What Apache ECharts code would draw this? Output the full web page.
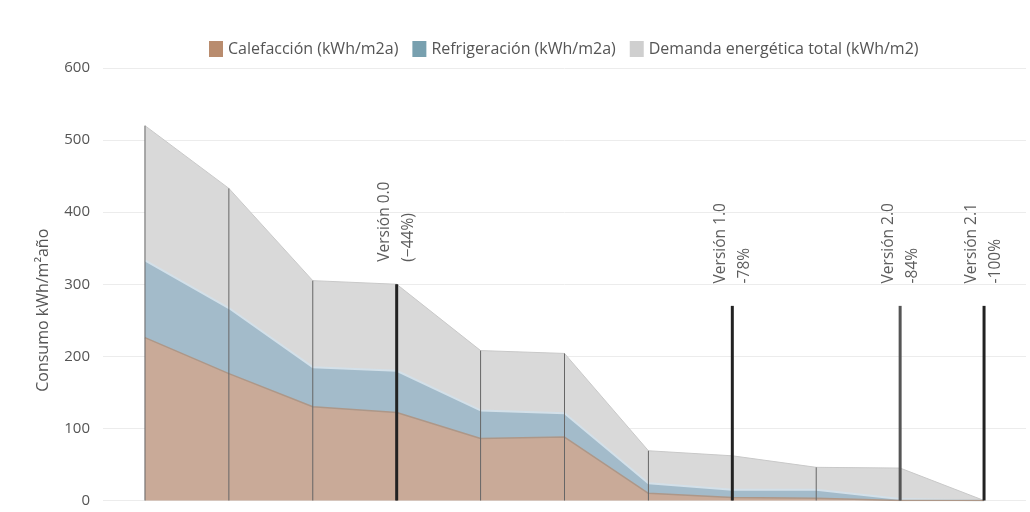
<!DOCTYPE html>
<html>
<head>
<meta charset="utf-8">
<script src="https://cdn.jsdelivr.net/npm/echarts@6/dist/echarts.min.js"></script>
<style>
  html, body { margin: 0; padding: 0; background: #fff; }
  #chart { width: 1030px; height: 512px; }
</style>
</head>
<body>
<div id="chart"></div>
<script>
// pasos del proceso (posiciones sobre el eje x)
var steps = ['0', '1', '2', '3', '4', '5', '6', '7', '8', '9', '10'];
// demanda energética total (kWh/m2)
var total = [520, 433, 305, 300, 208, 204, 69, 62, 46, 45, 0];
// calefacción (kWh/m2a)
var calefaccion = [226, 176, 130, 122, 86, 88, 10, 4, 3, 0, 0];
// refrigeración (kWh/m2a), apilada sobre calefacción
var refrigeracion = [107, 91, 55, 58, 39, 33, 14, 11, 12, 2, 0];

// versiones marcadas
var versionX = ['3', '7', '9', '10'];
var versionTop = [300, 270, 270, 270];
var versionText = ['Versión 0.0\n(−44%)', 'Versión 1.0\n-78%', 'Versión 2.0\n-84%', 'Versión 2.1\n-100%'];
var versionColor = ['#222', '#222', '#555', '#222'];

var font = '"Open Sans", Lato, sans-serif';

function lineItem(width) {
  return function (params, api) {
    var p0 = api.coord([api.value(0), 0]);
    var p1 = api.coord([api.value(0), api.value(1)]);
    return {
      type: 'line',
      shape: { x1: p0[0], y1: p0[1], x2: p1[0], y2: p1[1] },
      style: { stroke: api.visual('color'), lineWidth: width }
    };
  };
}

var chart = echarts.init(document.getElementById('chart'));

var option = {
  animation: false,
  textStyle: { fontFamily: font },
  legend: {
    top: 36,
    left: 204,
    icon: 'rect',
    itemWidth: 14,
    itemHeight: 16,
    itemGap: 14,
    textStyle: { fontFamily: font, fontSize: 16, color: '#555' },
    data: [
      { name: 'Calefacción (kWh/m2a)', itemStyle: { color: '#b98c6e' } },
      { name: 'Refrigeración (kWh/m2a)', itemStyle: { color: '#78a0af' } },
      { name: 'Demanda energética total (kWh/m2)', itemStyle: { color: '#cfcfcf' } }
    ]
  },
  grid: { left: 103, right: 4, top: 68, bottom: 11.5 },
  xAxis: {
    type: 'category',
    boundaryGap: true,
    data: steps,
    show: false
  },
  yAxis: {
    type: 'value',
    min: 0,
    max: 600,
    interval: 100,
    name: 'Consumo kWh/m²año',
    nameLocation: 'middle',
    nameGap: 52,
    nameTextStyle: { fontFamily: font, fontSize: 16, color: '#555', padding: [0, 52, 0, 0] },
    axisLine: { show: false },
    axisTick: { show: false },
    axisLabel: { fontFamily: font, fontSize: 15, color: '#555', margin: 13 },
    splitLine: { lineStyle: { color: '#ececec', width: 1 } }
  },
  series: [
    {
      name: 'Demanda energética total (kWh/m2)',
      type: 'line',
      z: 1,
      symbol: 'none',
      itemStyle: { color: '#cfcfcf' },
      lineStyle: { color: '#c9c9c9', width: 1 },
      areaStyle: { color: '#d9d9d9', opacity: 1 },
      data: total
    },
    {
      name: 'Calefacción (kWh/m2a)',
      type: 'line',
      stack: 'hvac',
      z: 3,
      symbol: 'none',
      itemStyle: { color: '#b98c6e' },
      lineStyle: { color: '#ad9788', width: 1.5 },
      areaStyle: { color: '#c9aa98', opacity: 1 },
      data: calefaccion
    },
    {
      name: 'Refrigeración (kWh/m2a)',
      type: 'line',
      stack: 'hvac',
      z: 2,
      symbol: 'none',
      itemStyle: { color: '#78a0af' },
      lineStyle: { color: '#d3e0e9', width: 2 },
      areaStyle: { color: '#a3bbca', opacity: 1 },
      data: refrigeracion
    },
    {
      type: 'custom',
      z: 4,
      silent: true,
      itemStyle: { color: '#666' },
      renderItem: lineItem(1),
      data: steps.map(function (s, i) { return [s, total[i]]; })
    },
    {
      type: 'custom',
      z: 5,
      silent: true,
      renderItem: lineItem(3),
      data: versionX.map(function (x, i) {
        return { value: [x, versionTop[i]], itemStyle: { color: versionColor[i] } };
      })
    },
    {
      type: 'scatter',
      z: 6,
      silent: true,
      symbolSize: 1,
      itemStyle: { color: 'rgba(0,0,0,0)' },
      label: {
        show: true,
        position: 'top',
        distance: 22,
        rotate: 90,
        align: 'left',
        verticalAlign: 'middle',
        fontFamily: font,
        fontSize: 15.5,
        lineHeight: 24,
        color: '#333',
        formatter: function (p) { return p.name; }
      },
      data: versionX.map(function (x, i) {
        return { name: versionText[i], value: [x, versionTop[i]] };
      })
    }
  ]
};

chart.setOption(option);
</script>
</body>
</html>
